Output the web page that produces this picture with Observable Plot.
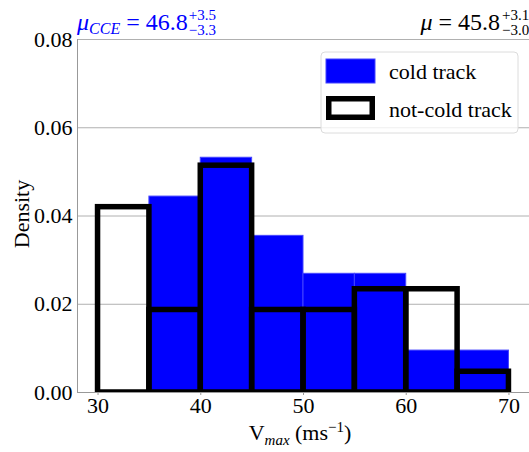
<!DOCTYPE html>
<html><head><meta charset="utf-8">
<script src="https://cdn.jsdelivr.net/npm/d3@7"></script>
<script src="https://cdn.jsdelivr.net/npm/@observablehq/plot@0.6"></script>
<style>body{margin:0;background:#fff} svg{display:block} svg text{font-family:"Liberation Serif","Times New Roman",serif !important}</style>
</head><body><div id="chart"></div>
<script>
// ---- data ----
const binStarts = [30, 35, 40, 45, 50, 55, 60, 65];
const binWidth = 5;
const coldDensity = [0, 0.0444, 0.0532, 0.0355, 0.0269, 0.0269, 0.0095, 0.0095];
const notColdDensity = [0.0420, 0.0187, 0.0514, 0.0187, 0.0187, 0.0234, 0.0234, 0.0047];
const xTicks = [30, 40, 50, 60, 70];
const yTicks = [0, 0.02, 0.04, 0.06, 0.08];
const seriesNames = ["cold track", "not-cold track"];
const coldStat = ["46.8", "+3.5", "−3.3"];
const allStat = ["45.8", "+3.1", "−3.0"];

const FONT = "'Liberation Serif','Times New Roman',serif";
const cold = binStarts.map((x, i) => ({x1: x, x2: x + binWidth, y: coldDensity[i]})).filter(d => d.y > 0);
const notCold = binStarts.map((x, i) => ({x1: x, x2: x + binWidth, y: notColdDensity[i]}));

const plot = Plot.plot({
  width: 529, height: 452,
  marginLeft: 77, marginRight: 0, marginTop: 39, marginBottom: 60,
  x: {domain: [28, 72]},
  y: {domain: [0, 0.08]},
  style: {fontFamily: FONT, fontSize: "22px", color: "black", background: "white"},
  marks: [
    Plot.gridY(yTicks.slice(1), {stroke: "#b0b0b0", strokeOpacity: 1, strokeWidth: 1}),
    Plot.rectY(cold, {x1: "x1", x2: "x2", y: "y", fill: "blue", stroke: "#4545ff", strokeWidth: 1}),
    Plot.rectY(notCold, {x1: "x1", x2: "x2", y: "y", fill: "none", stroke: "black", strokeWidth: 5.5, clip: true}),
    Plot.ruleX([28], {stroke: "#999"}),
    Plot.ruleY([0], {stroke: "#999"}),
    Plot.axisX({ticks: xTicks, tickSize: 3, tickPadding: 2, label: null, stroke: "#999", fontFamily: FONT, fontSize: 22}),
    Plot.axisY({ticks: yTicks, tickSize: 0, tickPadding: 5, tickFormat: d3.format(".2f"), label: null, fontFamily: FONT, fontSize: 22})
  ]
});
document.getElementById("chart").appendChild(plot);

const svg = d3.select(plot);
const big = 22, ann = 24, small = 15;

function annot(x, anchor, color, sub, stat) {
  const g = svg.append("g").attr("fill", color).attr("text-anchor", "start");
  const t = g.append("text").attr("x", x).attr("y", 30).attr("font-size", ann).attr("text-anchor", anchor);
  t.append("tspan").attr("font-style", "italic").text("μ");
  if (sub) {
    t.append("tspan").attr("font-style", "italic").attr("font-size", 16).attr("dy", 4).text(sub);
    t.append("tspan").attr("dy", -4).text(" = " + stat[0]);
  } else {
    t.append("tspan").text(" = " + stat[0]);
  }
  g.selectAll("text").style("font-family", FONT);
  const len = t.node().getComputedTextLength();
  const x0 = anchor === "start" ? x + len + 1 : x + 2;
  g.append("text").attr("x", x0).attr("y", 20).attr("font-size", small).text(stat[1]);
  g.append("text").attr("x", x0).attr("y", 35).attr("font-size", small).text(stat[2]);
}
annot(77, "start", "blue", "CCE", coldStat);
annot(500, "end", "black", null, allStat);

// axis labels
const xl = svg.append("text").attr("x", 300).attr("y", 440).attr("text-anchor", "middle")
  .attr("font-size", big).attr("fill", "black");
xl.append("tspan").text("V");
xl.append("tspan").attr("font-style", "italic").attr("font-size", small).attr("dy", 5).text("max");
xl.append("tspan").attr("dy", -5).text(" (ms");
xl.append("tspan").attr("font-size", small).attr("dy", -8).text("−1");
xl.append("tspan").attr("dy", 8).text(")");

svg.append("text").attr("transform", "translate(29,214) rotate(-90)").attr("text-anchor", "middle")
  .attr("font-size", big).attr("fill", "black").text("Density");

// legend
const lg = svg.append("g").attr("font-size", big).attr("text-anchor", "start");
lg.append("rect").attr("x", 321).attr("y", 52).attr("width", 197).attr("height", 81).attr("rx", 4)
  .attr("fill", "white").attr("fill-opacity", 0.8).attr("stroke", "#dcdcdc");
lg.append("rect").attr("x", 326).attr("y", 59).attr("width", 49).attr("height", 24)
  .attr("fill", "blue").attr("stroke", "#4545ff");
lg.append("rect").attr("x", 328.75).attr("y", 98.75).attr("width", 43.5).attr("height", 18.5)
  .attr("fill", "none").attr("stroke", "black").attr("stroke-width", 5.5);
lg.append("text").attr("x", 389).attr("y", 79).text(seriesNames[0]);
lg.append("text").attr("x", 389).attr("y", 117).text(seriesNames[1]);

svg.selectAll("text").style("font-family", FONT);
</script>
</body></html>
